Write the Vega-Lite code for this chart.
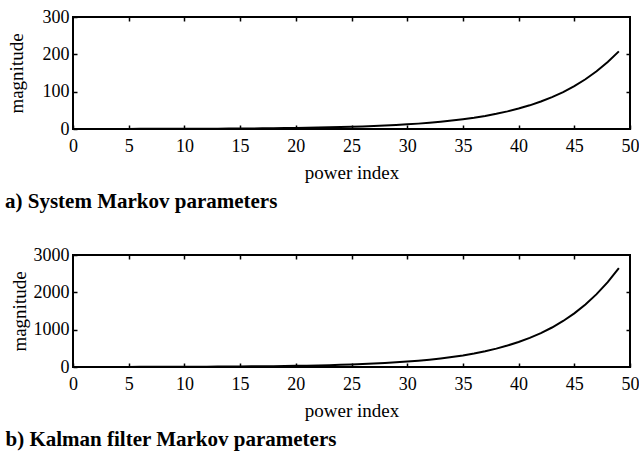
{
  "$schema": "https://vega.github.io/schema/vega-lite/v6.json",
  "background": "white",
  "padding": {"left": 4, "top": 7, "right": 0, "bottom": 5},
  "spacing": 32,
  "datasets": {
    "sys": [
      {"n": 0, "v": 0.14}, {"n": 1, "v": 0.17}, {"n": 2, "v": 0.19}, {"n": 3, "v": 0.22}, {"n": 4, "v": 0.26},
      {"n": 5, "v": 0.30}, {"n": 6, "v": 0.35}, {"n": 7, "v": 0.41}, {"n": 8, "v": 0.47}, {"n": 9, "v": 0.55},
      {"n": 10, "v": 0.64}, {"n": 11, "v": 0.74}, {"n": 12, "v": 0.85}, {"n": 13, "v": 1.0}, {"n": 14, "v": 1.15},
      {"n": 15, "v": 1.34}, {"n": 16, "v": 1.55}, {"n": 17, "v": 1.8}, {"n": 18, "v": 2.1}, {"n": 19, "v": 2.4},
      {"n": 20, "v": 2.8}, {"n": 21, "v": 3.3}, {"n": 22, "v": 3.8}, {"n": 23, "v": 4.4}, {"n": 24, "v": 5.1},
      {"n": 25, "v": 5.9}, {"n": 26, "v": 6.8}, {"n": 27, "v": 7.9}, {"n": 28, "v": 9.2}, {"n": 29, "v": 10.7},
      {"n": 30, "v": 12.4}, {"n": 31, "v": 14.4}, {"n": 32, "v": 16.7}, {"n": 33, "v": 19.4}, {"n": 34, "v": 22.5},
      {"n": 35, "v": 26.1}, {"n": 36, "v": 30.2}, {"n": 37, "v": 35.1}, {"n": 38, "v": 40.7}, {"n": 39, "v": 47.2},
      {"n": 40, "v": 54.7}, {"n": 41, "v": 63.4}, {"n": 42, "v": 73.6}, {"n": 43, "v": 85.4}, {"n": 44, "v": 99.0},
      {"n": 45, "v": 114.9}, {"n": 46, "v": 133.3}, {"n": 47, "v": 154.6}, {"n": 48, "v": 179.3}, {"n": 49, "v": 208}
    ],
    "kal": [
      {"n": 0, "v": 1.5}, {"n": 1, "v": 1.7}, {"n": 2, "v": 2.0}, {"n": 3, "v": 2.3}, {"n": 4, "v": 2.7},
      {"n": 5, "v": 3.2}, {"n": 6, "v": 3.7}, {"n": 7, "v": 4.3}, {"n": 8, "v": 5.0}, {"n": 9, "v": 5.8},
      {"n": 10, "v": 6.8}, {"n": 11, "v": 7.9}, {"n": 12, "v": 9.2}, {"n": 13, "v": 10.7}, {"n": 14, "v": 12.5},
      {"n": 15, "v": 14.6}, {"n": 16, "v": 17.0}, {"n": 17, "v": 19.8}, {"n": 18, "v": 23.1}, {"n": 19, "v": 26.9},
      {"n": 20, "v": 31.4}, {"n": 21, "v": 36.6}, {"n": 22, "v": 42.6}, {"n": 23, "v": 49.7}, {"n": 24, "v": 57.9},
      {"n": 25, "v": 67.5}, {"n": 26, "v": 78.6}, {"n": 27, "v": 91.6}, {"n": 28, "v": 107}, {"n": 29, "v": 124},
      {"n": 30, "v": 145}, {"n": 31, "v": 169}, {"n": 32, "v": 196}, {"n": 33, "v": 229}, {"n": 34, "v": 267},
      {"n": 35, "v": 311}, {"n": 36, "v": 362}, {"n": 37, "v": 422}, {"n": 38, "v": 492}, {"n": 39, "v": 574},
      {"n": 40, "v": 668}, {"n": 41, "v": 779}, {"n": 42, "v": 908}, {"n": 43, "v": 1058}, {"n": 44, "v": 1233},
      {"n": 45, "v": 1437}, {"n": 46, "v": 1674}, {"n": 47, "v": 1951}, {"n": 48, "v": 2274}, {"n": 49, "v": 2650}
    ]
  },
  "config": {
    "view": {"stroke": "black", "strokeWidth": 2},
    "font": "Liberation Serif",
    "axis": {
      "domain": false,
      "grid": false,
      "ticks": true,
      "tickColor": "black",
      "tickSize": -4,
      "tickWidth": 1.5,
      "labelFont": "Liberation Serif",
      "labelFontSize": 18,
      "labelColor": "black",
      "labelFlush": false,
      "labelOverlap": false,
      "format": "d",
      "titleFont": "Liberation Serif",
      "titleFontSize": 19,
      "titleColor": "black",
      "titleFontWeight": "normal"
    },
    "axisX": {"labelPadding": 12, "titlePadding": 8},
    "axisY": {"labelPadding": 8}
  },
  "vconcat": [
    {
      "width": 557,
      "height": 112,
      "title": {"text": "a) System Markov parameters", "orient": "bottom", "anchor": "start", "frame": "bounds", "font": "Liberation Serif", "fontSize": 21, "fontWeight": "bold", "color": "black", "offset": 9, "dx": -2},
      "data": {"name": "sys"},
      "layer": [
        {
          "mark": {"type": "line", "color": "black", "strokeWidth": 2},
          "encoding": {
            "x": {"field": "n", "type": "quantitative", "scale": {"domain": [0, 50], "nice": false},
                  "axis": {"title": "power index", "values": [0, 5, 10, 15, 20, 25, 30, 35, 40, 45, 50]}},
            "y": {"field": "v", "type": "quantitative", "scale": {"domain": [0, 300], "nice": false},
                  "axis": {"title": "magnitude", "values": [0, 100, 200, 300], "titlePadding": 16}}
          }
        },
        {
          "mark": {"type": "line", "opacity": 0},
          "encoding": {
            "x": {"field": "n", "type": "quantitative", "axis": {"orient": "top", "labels": false, "title": null, "values": [5, 10, 15, 20, 25, 30, 35, 40, 45]}},
            "y": {"field": "v", "type": "quantitative", "axis": {"orient": "right", "labels": false, "title": null, "values": [100, 200]}}
          }
        }
      ],
      "resolve": {"axis": {"x": "independent", "y": "independent"}}
    },
    {
      "width": 557,
      "height": 112,
      "title": {"text": "b) Kalman filter Markov parameters", "orient": "bottom", "anchor": "start", "frame": "bounds", "font": "Liberation Serif", "fontSize": 21, "fontWeight": "bold", "color": "black", "offset": 9, "dx": -4.5},
      "data": {"name": "kal"},
      "layer": [
        {
          "mark": {"type": "line", "color": "black", "strokeWidth": 2},
          "encoding": {
            "x": {"field": "n", "type": "quantitative", "scale": {"domain": [0, 50], "nice": false},
                  "axis": {"title": "power index", "values": [0, 5, 10, 15, 20, 25, 30, 35, 40, 45, 50]}},
            "y": {"field": "v", "type": "quantitative", "scale": {"domain": [0, 3000], "nice": false},
                  "axis": {"title": "magnitude", "values": [0, 1000, 2000, 3000], "titlePadding": 4}}
          }
        },
        {
          "mark": {"type": "line", "opacity": 0},
          "encoding": {
            "x": {"field": "n", "type": "quantitative", "axis": {"orient": "top", "labels": false, "title": null, "values": [5, 10, 15, 20, 25, 30, 35, 40, 45]}},
            "y": {"field": "v", "type": "quantitative", "axis": {"orient": "right", "labels": false, "title": null, "values": [1000, 2000]}}
          }
        }
      ],
      "resolve": {"axis": {"x": "independent", "y": "independent"}}
    }
  ]
}
